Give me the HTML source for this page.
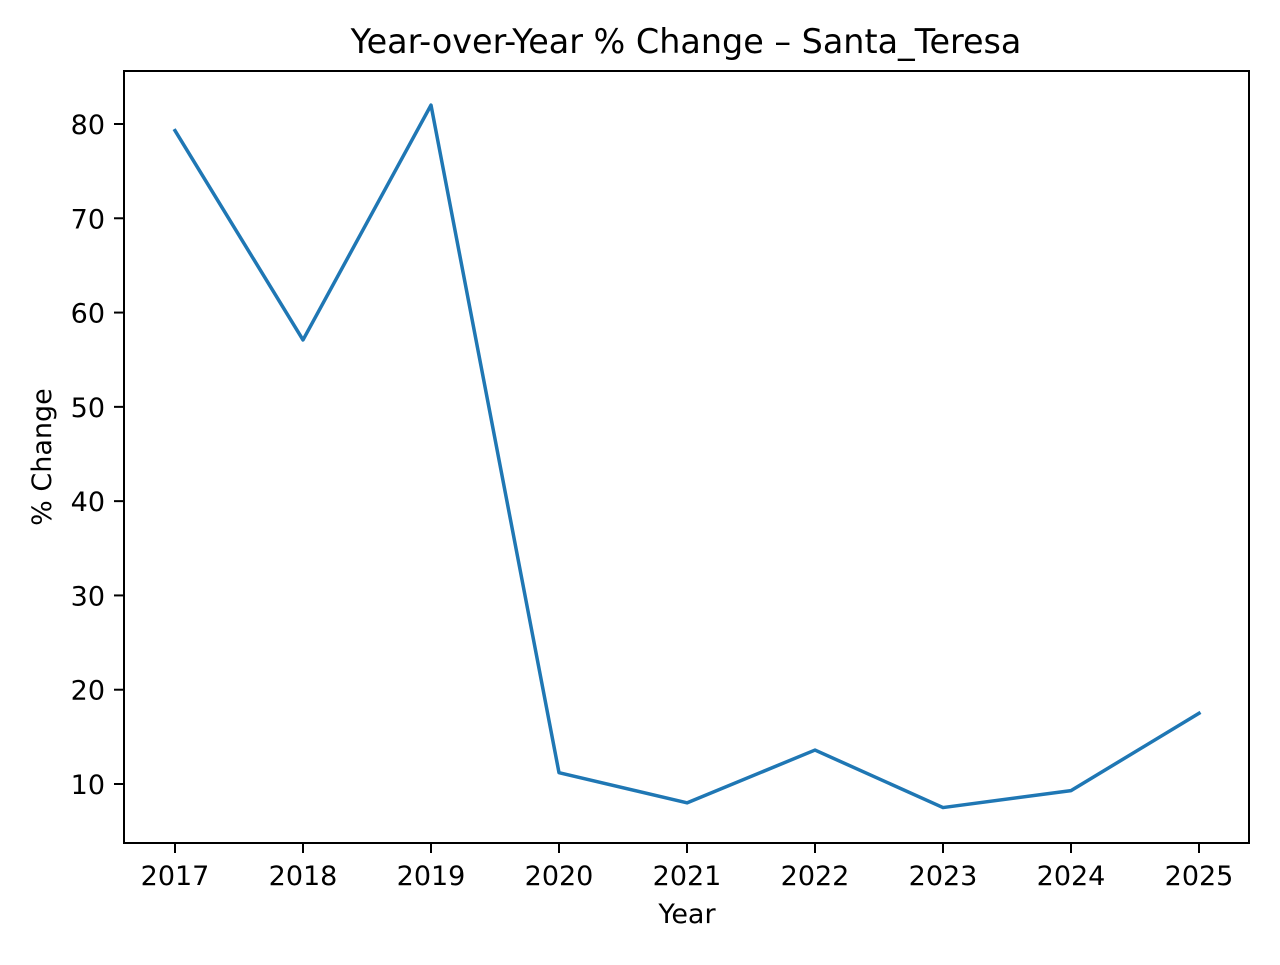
<!DOCTYPE html>
<html><head><meta charset="utf-8"><style>
body{margin:0;background:#fff}
svg text{font-family:"DejaVu Sans","Liberation Sans",sans-serif;fill:#000}
</style></head><body>
<svg id="chart" width="1280" height="960" viewBox="0 0 1280 960">
<rect width="1280" height="960" fill="#fff"/>
<text x="686" y="53" font-size="33.4" text-anchor="middle">Year-over-Year % Change – Santa_Teresa</text>
<g id="xt"></g><g id="yt"></g>
<path id="line" fill="none" stroke="#1f77b4" stroke-width="3.5" stroke-linejoin="round" stroke-linecap="square"/>
<rect x="124" y="71" width="1125" height="772" fill="none" stroke="#000" stroke-width="2"/>
<text x="687" y="923" font-size="27" text-anchor="middle">Year</text>
<text transform="translate(51,457) rotate(-90)" font-size="27" text-anchor="middle">% Change</text>
</svg>
<script>
const years=[2017,2018,2019,2020,2021,2022,2023,2024,2025];
const values=[79.3,57.1,82.0,11.2,8.0,13.6,7.5,9.3,17.5];
const yTicks=[10,20,30,40,50,60,70,80];
const ns="http://www.w3.org/2000/svg";
function xs(y){return 175+(y-2017)*128;}
function ys(v){return 784-(v-10)*9.4286;}
const xt=document.getElementById('xt'),yt=document.getElementById('yt');
years.forEach(y=>{
 const l=document.createElementNS(ns,'line');
 l.setAttribute('x1',xs(y));l.setAttribute('x2',xs(y));l.setAttribute('y1',843);l.setAttribute('y2',853);l.setAttribute('stroke','#000');l.setAttribute('stroke-width','2');
 
 
 xt.appendChild(l);
 const t=document.createElementNS(ns,'text');
 t.setAttribute('x',xs(y));t.setAttribute('y',885);t.setAttribute('font-size','27');t.setAttribute('text-anchor','middle');t.textContent=y;
 
 
 xt.appendChild(t);
});
yTicks.forEach(v=>{
 const l=document.createElementNS(ns,'line');
 l.setAttribute('x1',114);l.setAttribute('x2',124);l.setAttribute('y1',ys(v));l.setAttribute('y2',ys(v));l.setAttribute('stroke','#000');l.setAttribute('stroke-width','2');
 
 
 yt.appendChild(l);
 const t=document.createElementNS(ns,'text');
 t.setAttribute('x',105);t.setAttribute('y',ys(v)+10);t.setAttribute('font-size','27');t.setAttribute('text-anchor','end');t.textContent=v;
 
 
 yt.appendChild(t);
});
document.getElementById('line').setAttribute('d',years.map((y,i)=>(i?'L':'M')+xs(y)+' '+ys(values[i])).join(' '));
</script>
</body></html>
